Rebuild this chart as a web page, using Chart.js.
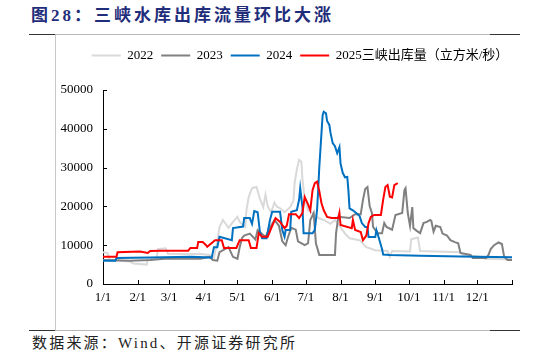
<!DOCTYPE html>
<html>
<head>
<meta charset="utf-8">
<script src="https://cdn.jsdelivr.net/npm/chart.js@4"></script>
<style>
  html, body { margin: 0; padding: 0; background: #fff; }
  body { width: 546px; height: 356px; position: relative; overflow: hidden; }
  #title { position: absolute; left: 31px; top: 1px; font: bold 17px "Liberation Serif", "Noto Sans CJK SC", serif; color: #1f2d7b; letter-spacing: 3px; white-space: nowrap; }
  #source { position: absolute; left: 32px; top: 331px; font: 15px "Liberation Serif", "Noto Sans CJK SC", serif; color: #222; letter-spacing: 2.2px; white-space: nowrap; }
  .ln { position: absolute; }
  #wrap { position: absolute; left: 0; top: 0; width: 546px; height: 356px; }
</style>
</head>
<body>
<div id="title">图28：三峡水库出库流量环比大涨</div>
<div class="ln" style="left:29px;top:34px;width:491px;height:1px;background:#b8b8b8"></div>
<div class="ln" style="left:29px;top:34px;width:26px;height:1px;background:#333"></div>
<div class="ln" style="left:490px;top:34px;width:30px;height:1px;background:#333"></div>
<div class="ln" style="left:55px;top:35px;width:1px;height:295px;background:#c8c8c8"></div>
<div class="ln" style="left:29px;top:330px;width:491px;height:1px;background:#b8b8b8"></div>
<div class="ln" style="left:29px;top:330px;width:26px;height:1px;background:#333"></div>
<div class="ln" style="left:490px;top:330px;width:30px;height:1px;background:#333"></div>
<div id="source">数据来源：Wind、开源证券研究所</div>
<div id="wrap"><canvas id="c" width="546" height="356"></canvas></div>
<script>
// x = day of year (0 = 1/1), y = outflow (m3/s)
const monthStarts = [0, 31, 59, 90, 120, 151, 181, 212, 243, 273, 304, 334, 365];
const monthLabels = ['1/1','2/1','3/1','4/1','5/1','6/1','7/1','8/1','9/1','10/1','11/1','12/1',''];
const yTicks = [0, 10000, 20000, 30000, 40000, 50000];
const seriesNames = ['2022', '2023', '2024', '2025三峡出库量（立方米/秒）'];

const s2022 = [[0,8200],[4,8000],[6,6200],[24,5800],[27,5300],[39,5000],[40,6700],[48,6700],[49,9000],[56,9200],[58,7800],[71,7700],[87,7700],[95,7500],[99,6800],[102,11000],[104,14700],[107,16500],[112,14500],[116,16000],[120,17300],[122,16000],[127,14700],[128,19000],[130,22400],[133,24700],[137,25000],[140,22000],[143,19800],[145,23000],[147,20000],[150,18500],[153,21000],[155,20000],[158,19500],[162,18500],[167,19800],[170,21500],[171,26000],[173,29500],[175,32000],[177,31500],[178,27000],[180,22000],[183,19000],[187,18300],[192,17000],[197,16500],[203,15500],[207,16500],[211,15000],[216,13000],[220,11800],[229,11300],[235,9500],[243,8700],[254,8500],[256,7000],[258,8500],[274,8400],[275,11500],[281,12000],[283,8500],[319,8200],[321,7500],[336,7000],[341,6500],[365,6300]];

const s2023 = [[0,6200],[24,6000],[42,6200],[55,6500],[87,6500],[95,7000],[98,6200],[102,6000],[104,8200],[112,9500],[116,7000],[120,6500],[122,9500],[124,11800],[126,12500],[131,13000],[136,11500],[138,13900],[145,12100],[149,14500],[153,16500],[157,15000],[160,11000],[163,10000],[165,12000],[168,14500],[172,14000],[174,11000],[180,10000],[183,10500],[185,16500],[188,18300],[190,10500],[193,7500],[207,7500],[208,13100],[210,17300],[220,17000],[225,18000],[230,18000],[232,21700],[234,24500],[236,25000],[238,20000],[240,18300],[241,14700],[245,13100],[249,13100],[251,15700],[253,14700],[258,14000],[261,17800],[267,18300],[269,24200],[270,24700],[272,18300],[274,15000],[276,19800],[277,14400],[280,13700],[283,13100],[286,15700],[289,16000],[292,16500],[293,16300],[295,13500],[297,15000],[301,14700],[303,13000],[307,12500],[310,11300],[314,10800],[317,10500],[319,8000],[328,7500],[330,6700],[342,6700],[344,7500],[346,9000],[349,10000],[353,10700],[356,10300],[358,7000],[361,6200],[365,6200]];

const s2024 = [[0,6000],[11,6000],[12,6700],[42,6800],[78,7000],[97,6800],[99,9500],[102,9500],[104,12200],[115,11300],[116,14400],[125,14800],[126,17000],[131,17000],[133,15500],[135,18800],[138,18500],[140,13500],[142,11800],[146,11800],[149,16500],[151,18600],[158,18600],[160,13900],[162,12200],[163,13900],[167,13900],[168,18600],[173,19000],[175,21700],[176,24700],[178,19800],[179,13100],[187,13100],[189,13900],[191,19000],[192,24000],[193,30000],[194,34500],[195,39000],[196,43500],[197,44400],[199,44000],[200,42000],[202,41000],[203,39000],[205,36300],[207,35500],[209,33700],[211,35300],[212,31000],[214,28600],[216,27500],[218,27600],[219,24200],[220,19500],[223,19000],[226,18300],[229,17500],[231,15700],[234,14700],[236,14700],[237,12100],[243,12100],[244,13900],[245,13000],[247,11000],[249,9000],[250,7600],[256,7500],[283,7300],[319,7100],[365,6900]];

const s2025 = [[0,7000],[12,7000],[13,8200],[33,8400],[40,8000],[42,8500],[51,8600],[64,8600],[76,8600],[78,9300],[84,9300],[85,10800],[89,10800],[92,10000],[93,9600],[100,11300],[106,11300],[108,9300],[119,9300],[122,11300],[130,11300],[132,9300],[137,9300],[139,13100],[142,12200],[147,12200],[151,15000],[154,17000],[158,16000],[162,14400],[164,15000],[166,18000],[172,18000],[175,17000],[178,18300],[180,22400],[183,20500],[185,19000],[187,24200],[189,26000],[191,26400],[193,24000],[195,20800],[197,19000],[200,17300],[204,17000],[210,17000],[211,18300],[212,15200],[222,14400],[223,16500],[225,13900],[230,13400],[232,11300],[235,12500],[237,15700],[239,17300],[242,17800],[248,17800],[250,21700],[252,25000],[254,25500],[256,22500],[258,22300],[260,25500],[263,26000]];

const colors = ['#d9d9d9', '#808080', '#0070c0', '#ff0000'];
const allSeries = [s2022, s2023, s2024, s2025];

function ds(i) {
  return {
    label: seriesNames[i],
    data: allSeries[i].map(p => ({x: p[0], y: p[1]})),
    borderColor: colors[i],
    backgroundColor: colors[i],
    borderWidth: 2,
    pointRadius: 0,
    tension: 0,
    pointStyle: 'line'
  };
}

const FONT = '"Liberation Serif", "Noto Sans CJK SC", serif';

const inwardTicks = {
  id: 'inwardTicks',
  afterDraw(chart) {
    const {ctx, scales: {x, y}} = chart;
    ctx.save();
    ctx.strokeStyle = '#000';
    ctx.lineWidth = 1;
    ctx.beginPath();
    monthStarts.forEach(d => {
      const px = Math.round(x.getPixelForValue(d)) + 0.5;
      ctx.moveTo(px, y.bottom);
      ctx.lineTo(px, y.bottom - 4);
    });
    yTicks.forEach(v => {
      const py = Math.round(y.getPixelForValue(v)) + 0.5;
      ctx.moveTo(x.left, py);
      ctx.lineTo(x.left + 4, py);
    });
    ctx.stroke();
    ctx.restore();
  }
};

const legendGap = {
  id: 'legendGap',
  beforeInit(chart) {
    const origFit = chart.legend.fit;
    chart.legend.fit = function () {
      origFit.bind(chart.legend)();
      this.height += 18;
    };
  },
  afterLayout(chart) {
    chart.legend.left += 16;
    chart.legend.right += 16;
  }
};

new Chart(document.getElementById('c'), {
  type: 'line',
  data: { datasets: [ds(3), ds(2), ds(1), ds(0)] },
  options: {
    responsive: false,
    animation: false,
    events: [],
    layout: { padding: { left: 56, right: 34, top: 41, bottom: 50 } },
    plugins: {
      legend: {
        display: true,
        reverse: true,
        labels: {
          usePointStyle: true,
          pointStyleWidth: 29,
          boxHeight: 13,
          padding: 8,
          color: '#000',
          font: { family: FONT, size: 13 }
        }
      },
      tooltip: { enabled: false },
      title: { display: false }
    },
    scales: {
      x: {
        type: 'linear',
        min: 0,
        max: 365,
        afterBuildTicks: (s) => { s.ticks = monthStarts.map(v => ({value: v})); },
        afterFit: (s) => { s.height = 22; },
        ticks: {
          autoSkip: false,
          maxRotation: 0,
          padding: 6,
          color: '#000',
          font: { family: FONT, size: 13 },
          callback: (v) => monthLabels[monthStarts.indexOf(v)]
        },
        grid: { display: false, drawTicks: false },
        border: { display: true, color: '#000', width: 1 }
      },
      y: {
        min: 0,
        max: 50000,
        afterBuildTicks: (s) => { s.ticks = yTicks.map(v => ({value: v})); },
        afterFit: (s) => { s.width = 47; },
        ticks: {
          padding: 10,
          color: '#000',
          font: { family: FONT, size: 13 },
          callback: (v) => String(v)
        },
        grid: { display: false, drawTicks: false },
        border: { display: true, color: '#000', width: 1 }
      }
    }
  },
  plugins: [inwardTicks, legendGap]
});
</script>
</body>
</html>
